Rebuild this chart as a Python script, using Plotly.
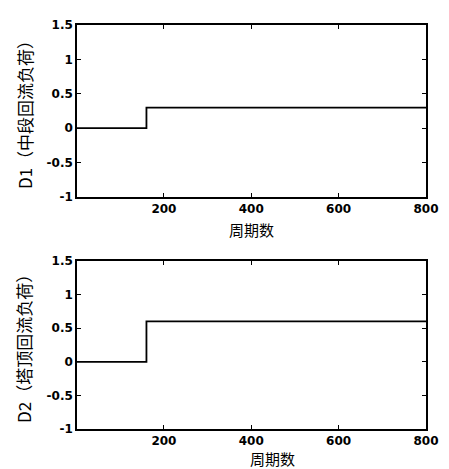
import plotly.graph_objects as go

cycles = [1, 160, 800]
d1_values = [0, 0.3, 0.3]
d2_values = [0, 0.6, 0.6]
x_ticks = [200, 400, 600, 800]
y_ticks = [-1, -0.5, 0, 0.5, 1, 1.5]
y_tick_labels = ["-1", "-0.5", "0", "0.5", "1", "1.5"]
x_title = "周期数"
y1_title = "D1（中段回流负荷）"
y2_title = "D2（塔顶回流负荷）"

fig = go.Figure()
fig.add_trace(go.Scatter(x=cycles, y=d1_values, mode="lines", line=dict(shape="hv", color="black", width=1.8),
                         xaxis="x", yaxis="y", showlegend=False))
fig.add_trace(go.Scatter(x=cycles, y=d2_values, mode="lines", line=dict(shape="hv", color="black", width=1.8),
                         xaxis="x2", yaxis="y2", showlegend=False))

tickfont = dict(family="DejaVu Sans", size=12, color="black", weight="bold")
xcommon = dict(range=[1, 800], tickvals=x_ticks, ticks="inside", ticklen=4, showline=True, linecolor="black",
               linewidth=1.5, mirror="ticks", showgrid=False, zeroline=False, tickfont=tickfont, tickcolor="black",
               ticklabelstandoff=0)
ycommon = dict(range=[-1, 1.5], tickvals=y_ticks, ticktext=y_tick_labels, ticks="inside", ticklen=4,
               showline=True, linecolor="black", linewidth=1.5, mirror="ticks", showgrid=False, zeroline=False,
               tickfont=tickfont, tickcolor="black")

fig.update_layout(
    width=441, height=461,
    margin=dict(l=69, r=17, t=10, b=40),
    plot_bgcolor="white", paper_bgcolor="white",
    xaxis=dict(domain=[0, 1], anchor="y", **xcommon),
    yaxis=dict(domain=[0.5742, 1], anchor="x", **ycommon),
    xaxis2=dict(domain=[0, 1], anchor="y2", **xcommon),
    yaxis2=dict(domain=[0, 0.416], anchor="x2", **ycommon),
)

xtitlefont = dict(family="Noto Sans CJK SC", size=15, color="black")
ytitlefont = dict(family="Noto Sans CJK SC", size=17, color="black")
fig.add_annotation(text=x_title, xref="paper", yref="paper", x=0.5, y=0.5742, yshift=-32,
                   showarrow=False, font=xtitlefont, yanchor="middle", xanchor="center")
fig.add_annotation(text=x_title, xref="paper", yref="paper", x=0.56, y=0, yshift=-29,
                   showarrow=False, font=xtitlefont, yanchor="middle", xanchor="center")
fig.add_annotation(text=y1_title, xref="paper", yref="paper", x=0, xshift=-53, y=0.7871,
                   showarrow=False, font=ytitlefont, textangle=-90, xanchor="center", yanchor="middle")
fig.add_annotation(text=y2_title, xref="paper", yref="paper", x=0, xshift=-53, y=0.208,
                   showarrow=False, font=ytitlefont, textangle=-90, xanchor="center", yanchor="middle")

fig.write_html("out.html")
